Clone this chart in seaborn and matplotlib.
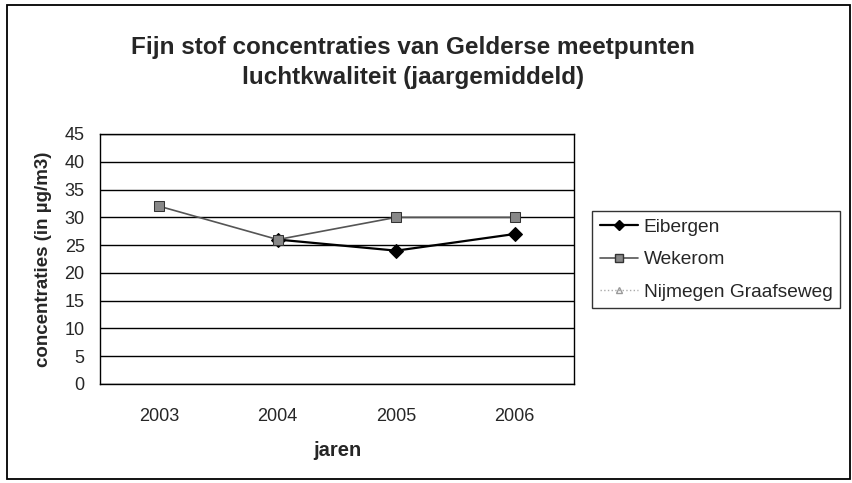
import numpy as np
import pandas as pd
import seaborn as sns
import matplotlib.pyplot as plt
from matplotlib.lines import Line2D
from matplotlib.patches import Rectangle

sns.set_style("white")
plt.rcParams['font.family'] = ['Liberation Sans', 'DejaVu Sans']

# data
jaren = ['2003', '2004', '2005', '2006']
eibergen = [np.nan, 26, 24, 27]
wekerom = [32, 26, 30, 30]
nijmegen = [np.nan, np.nan, np.nan, np.nan]

df = pd.DataFrame({'jaar': range(len(jaren)),
                   'Eibergen': eibergen,
                   'Wekerom': wekerom,
                   'Nijmegen Graafseweg': nijmegen})

fig = plt.figure(figsize=(8.53, 4.83), dpi=100)
ax = fig.add_axes([100 / 853, 99 / 483, 474 / 853, 250 / 483])

# outer border of the chart area
fig.patches.append(Rectangle((0.008, 0.008), 0.989, 0.981, transform=fig.transFigure,
                             fill=False, edgecolor='black', linewidth=1.3))

sns.lineplot(data=df.dropna(subset=['Eibergen']), x='jaar', y='Eibergen', ax=ax, color='black',
             linewidth=1.6, marker='D', markersize=7, markerfacecolor='black', markeredgecolor='black')
sns.lineplot(data=df, x='jaar', y='Wekerom', ax=ax, color='#555555', linewidth=1.2,
             marker='s', markersize=7, markerfacecolor='#888888', markeredgecolor='#333333')

ax.set_xlim(-0.5, 3.5)
ax.set_ylim(0, 45)
ax.set_yticks(range(0, 46, 5))
ax.set_xticks(range(len(jaren)))
ax.set_xticklabels(jaren)
ax.set_xticks([-0.5, 0.5, 1.5, 2.5, 3.5], minor=True)
ax.tick_params(axis='x', which='major', length=0, pad=17, labelsize=13)
ax.tick_params(axis='x', which='minor', direction='out', length=6, width=1, color='black')
ax.tick_params(axis='y', direction='out', length=5, width=1, color='black', labelsize=13, pad=6)
ax.grid(axis='y', color='black', linewidth=1)
ax.set_axisbelow(True)
for s in ax.spines.values():
    s.set_color('black')
    s.set_linewidth(1)

ax.set_xlabel('jaren', fontsize=14.5, fontweight='bold', labelpad=12)
ax.set_ylabel('concentraties (in µg/m3)', fontsize=13.5, fontweight='bold', labelpad=9)

fig.suptitle('Fijn stof concentraties van Gelderse meetpunten\nluchtkwaliteit (jaargemiddeld)',
             x=0.484, y=0.925, fontsize=17.5, fontweight='bold', linespacing=1.35)

handles = [
    Line2D([], [], color='black', linewidth=1.6, marker='D', markersize=5),
    Line2D([], [], color='#555555', linewidth=1.2, marker='s', markersize=6,
           markerfacecolor='#888888', markeredgecolor='#333333'),
    Line2D([], [], color='#aaaaaa', linewidth=1, linestyle=':', marker='^', markersize=4,
           markerfacecolor='none', markeredgecolor='#999999'),
]
leg = fig.legend(handles, ['Eibergen', 'Wekerom', 'Nijmegen Graafseweg'],
                 loc='upper left', bbox_to_anchor=(592 / 853, 1 - 211 / 483), fontsize=13.8,
                 frameon=True, fancybox=False, edgecolor='black', handlelength=2.0,
                 borderpad=0.4, labelspacing=0.78, handletextpad=0.3, borderaxespad=0)
leg.get_frame().set_linewidth(1)

fig.savefig('out.png', dpi=100)
